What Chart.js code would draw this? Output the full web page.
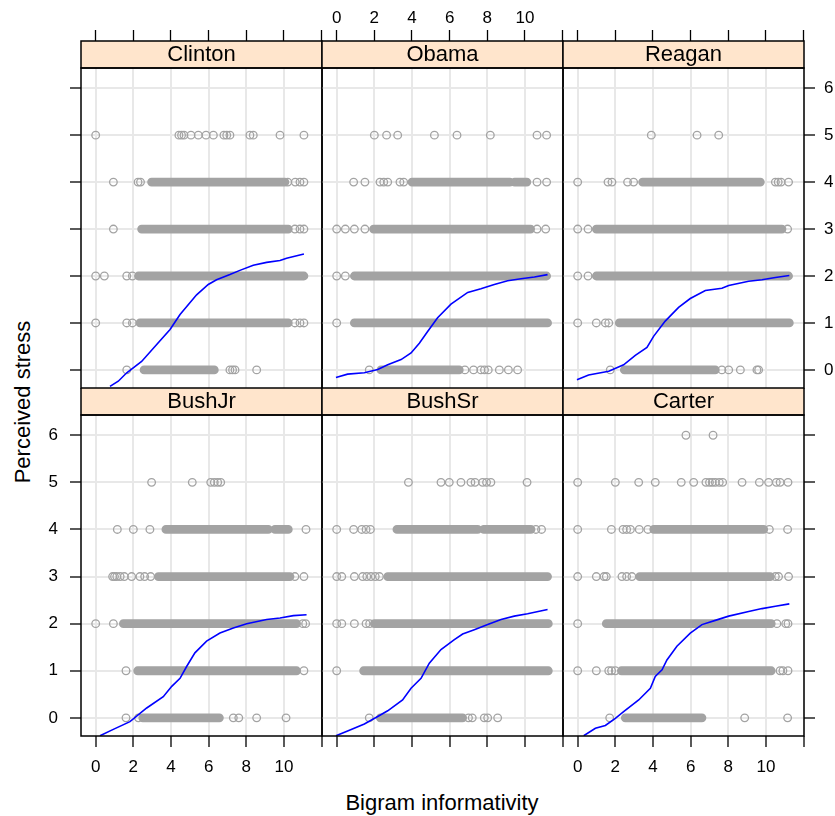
<!DOCTYPE html>
<html>
<head>
<meta charset="utf-8">
<script src="https://cdn.jsdelivr.net/npm/chart.js@4"></script>
<style>
  body { margin: 0; background: #fff; }
  #wrap { position: relative; width: 835px; height: 816px; overflow: hidden; font-family: "Liberation Sans", Arial, sans-serif; }
  canvas { position: absolute; }
  .lab { position: absolute; font-size: 22px; line-height: 22px; color: #000; text-align: center; white-space: nowrap; }
</style>
</head>
<body>
<div id="wrap">
  <div class="lab" style="left:242px; top:792px; width:400px;">Bigram informativity</div>
  <div class="lab" style="left:-127px; top:391px; width:300px; transform:rotate(-90deg);">Perceived stress</div>
</div>
<script>
const presidents = ['Clinton', 'Obama', 'Reagan', 'BushJr', 'BushSr', 'Carter'];
const xTicks = [0, 2, 4, 6, 8, 10, 12];
const xTickLabels = ['0', '2', '4', '6', '8', '10', ''];
const yTicks = [0, 1, 2, 3, 4, 5, 6];

// single circles [x, stress]
const clintonDots = [
  [0.0, 5], [4.42, 5], [4.56, 5], [4.69, 5], [5.06, 5], [5.45, 5], [5.86, 5], [6.25, 5], [6.81, 5], [6.96, 5], [7.13, 5], [8.19, 5], [8.37, 5], [9.79, 5], [11.06, 5],
  [0.94, 4], [2.25, 4], [2.38, 4], [10.2, 4], [10.6, 4], [10.85, 4], [11.06, 4],
  [0.94, 3], [10.58, 3], [10.85, 3], [11.06, 3],
  [0.0, 2], [0.46, 2], [1.65, 2], [1.95, 2],
  [0.0, 1], [1.65, 1], [1.95, 1], [10.58, 1], [10.85, 1], [11.06, 1],
  [1.65, 0], [7.13, 0], [7.27, 0], [7.4, 0], [8.55, 0]
];
// dense runs of overlapping circles [xFrom, xTo, stress]
const clintonRuns = [[2.97, 10.05, 4], [2.44, 10.23, 3], [2.27, 11.06, 2], [2.35, 10.23, 1], [2.57, 6.3, 0]];
const clintonLineX = [0.76, 1.2, 1.65, 2.44, 3.24, 3.95, 4.48, 5.36, 5.98, 6.42, 7.13, 7.66, 8.37, 9.08, 9.79, 10.14, 11.06];
const clintonLineY = [-0.35, -0.24, -0.06, 0.18, 0.54, 0.86, 1.18, 1.6, 1.82, 1.92, 2.03, 2.12, 2.23, 2.29, 2.33, 2.38, 2.47];

const obamaDots = [
  [2.0, 5], [2.65, 5], [3.24, 5], [5.19, 5], [6.39, 5], [8.16, 5], [10.64, 5], [11.15, 5],
  [0.9, 4], [1.5, 4], [2.3, 4], [2.5, 4], [2.71, 4], [3.36, 4], [3.56, 4], [10.64, 4], [11.15, 4],
  [0.0, 3], [0.46, 3], [0.94, 3], [1.5, 3], [10.64, 3], [11.1, 3],
  [0.0, 2], [0.46, 2],
  [0.0, 1],
  [1.73, 0], [6.81, 0], [7.27, 0], [7.66, 0], [7.85, 0], [8.05, 0], [8.64, 0], [9.12, 0], [9.61, 0]
];
const obamaRuns = [[4.0, 9.2, 4], [9.45, 10.1, 4], [1.96, 10.3, 3], [0.94, 11.15, 2], [0.94, 11.2, 1], [2.35, 6.51, 0]];
const obamaLineX = [-0.04, 0.58, 1.47, 2.18, 2.71, 3.42, 3.95, 4.39, 4.83, 5.36, 6.07, 6.96, 7.66, 8.37, 9.08, 9.79, 10.5, 11.2];
const obamaLineY = [-0.16, -0.09, -0.06, 0.01, 0.11, 0.22, 0.36, 0.57, 0.82, 1.11, 1.4, 1.65, 1.73, 1.82, 1.9, 1.94, 1.98, 2.03];

const reaganDots = [
  [3.91, 5], [6.34, 5], [7.49, 5],
  [0.0, 4], [1.61, 4], [1.82, 4], [2.65, 4], [2.97, 4], [10.5, 4], [10.65, 4], [10.8, 4], [11.2, 4],
  [0.0, 3], [0.55, 3], [11.15, 3],
  [0.0, 2], [0.55, 2],
  [0.0, 1], [0.99, 1], [1.47, 1], [1.65, 1],
  [1.73, 0], [7.66, 0], [8.02, 0], [8.64, 0], [9.52, 0], [9.61, 0]
];
const reaganRuns = [[3.45, 9.7, 4], [0.99, 10.85, 3], [0.99, 11.2, 2], [2.21, 11.24, 1], [2.48, 7.31, 0]];
const reaganLineX = [-0.04, 0.58, 1.65, 2.44, 3.06, 3.68, 4.04, 4.65, 5.36, 5.98, 6.78, 7.66, 8.02, 9.08, 9.79, 10.5, 11.24];
const reaganLineY = [-0.21, -0.11, -0.03, 0.11, 0.31, 0.48, 0.72, 1.04, 1.33, 1.52, 1.69, 1.74, 1.8, 1.89, 1.92, 1.97, 2.01];

const bushJrDots = [
  [2.97, 5], [5.13, 5], [6.11, 5], [6.3, 5], [6.48, 5], [6.64, 5],
  [1.15, 4], [2.0, 4], [2.88, 4], [11.17, 4],
  [0.9, 3], [1.0, 3], [1.12, 3], [1.3, 3], [1.52, 3], [1.91, 3], [2.35, 3], [2.6, 3], [2.92, 3], [10.58, 3], [11.06, 3],
  [0.0, 2], [0.94, 2], [11.0, 2], [11.15, 2],
  [1.61, 1], [11.06, 1],
  [1.61, 0], [2.27, 0], [7.31, 0], [7.6, 0], [8.55, 0], [10.11, 0]
];
const bushJrRuns = [[3.73, 9.17, 4], [9.52, 10.23, 4], [3.33, 10.32, 3], [1.47, 10.67, 2], [2.23, 10.67, 1], [2.5, 6.57, 0]];
const bushJrLineX = [0.23, 0.85, 1.82, 2.71, 3.59, 4.04, 4.48, 4.83, 5.27, 5.89, 6.6, 7.31, 8.02, 9.08, 9.79, 10.5, 11.2];
const bushJrLineY = [-0.38, -0.26, -0.08, 0.21, 0.45, 0.67, 0.84, 1.09, 1.38, 1.63, 1.8, 1.91, 2.0, 2.09, 2.12, 2.17, 2.19];

const bushSrDots = [
  [3.81, 5], [5.54, 5], [5.98, 5], [6.6, 5], [7.13, 5], [7.35, 5], [7.75, 5], [7.96, 5], [8.19, 5], [10.11, 5],
  [0.0, 4], [0.9, 4], [1.33, 4], [1.56, 4], [1.79, 4], [10.58, 4], [10.88, 4],
  [0.0, 3], [0.27, 3], [0.94, 3], [1.38, 3], [1.6, 3], [1.82, 3], [2.05, 3], [2.27, 3],
  [0.0, 2], [0.27, 2], [0.94, 2], [1.56, 2], [1.75, 2],
  [0.0, 1],
  [1.73, 0], [7.0, 0], [7.2, 0], [7.84, 0], [8.02, 0], [8.55, 0]
];
const bushSrRuns = [[3.2, 7.49, 4], [7.81, 10.32, 4], [2.71, 11.2, 3], [2.0, 11.24, 2], [1.43, 11.24, 1], [2.32, 6.69, 0]];
const bushSrLineX = [-0.04, 0.58, 1.47, 2.18, 2.71, 3.5, 3.95, 4.48, 4.92, 5.54, 6.25, 6.69, 7.31, 8.02, 8.73, 9.43, 10.14, 11.2];
const bushSrLineY = [-0.38, -0.28, -0.13, 0.03, 0.15, 0.38, 0.63, 0.84, 1.16, 1.45, 1.66, 1.78, 1.87, 1.98, 2.09, 2.16, 2.21, 2.3];

const carterDots = [
  [5.75, 6], [7.19, 6],
  [0.0, 5], [2.0, 5], [3.24, 5], [4.12, 5], [5.5, 5], [6.16, 5], [6.81, 5], [7.0, 5], [7.15, 5], [7.31, 5], [7.52, 5], [7.7, 5], [8.73, 5], [9.65, 5], [10.14, 5], [10.55, 5], [10.75, 5], [11.17, 5],
  [0.0, 4], [1.79, 4], [2.41, 4], [2.6, 4], [2.8, 4], [3.27, 4], [3.73, 4], [10.18, 4], [11.15, 4],
  [0.0, 3], [0.99, 3], [1.4, 3], [1.52, 3], [2.35, 3], [2.6, 3], [2.88, 3], [10.5, 3], [10.67, 3], [11.2, 3],
  [0.0, 2], [10.58, 2], [11.05, 2], [11.17, 2],
  [0.0, 1], [0.99, 1], [1.65, 1], [1.8, 1], [2.0, 1], [10.75, 1], [10.9, 1], [11.17, 1],
  [1.7, 0], [8.87, 0], [11.15, 0]
];
const carterRuns = [[4.04, 9.88, 4], [3.29, 10.23, 3], [1.52, 10.28, 2], [2.32, 10.28, 1], [2.53, 6.6, 0]];
const carterLineX = [0.32, 0.94, 1.47, 2.0, 2.44, 3.24, 3.86, 4.12, 4.48, 4.74, 5.27, 5.98, 6.6, 7.31, 8.02, 9.08, 9.79, 10.5, 11.24];
const carterLineY = [-0.38, -0.22, -0.16, -0.01, 0.13, 0.38, 0.63, 0.88, 1.02, 1.23, 1.52, 1.8, 1.98, 2.07, 2.16, 2.26, 2.32, 2.37, 2.42];

const panels = [
  [clintonDots, clintonRuns, clintonLineX, clintonLineY],
  [obamaDots, obamaRuns, obamaLineX, obamaLineY],
  [reaganDots, reaganRuns, reaganLineX, reaganLineY],
  [bushJrDots, bushJrRuns, bushJrLineX, bushJrLineY],
  [bushSrDots, bushSrRuns, bushSrLineX, bushSrLineY],
  [carterDots, carterRuns, carterLineX, carterLineY]
];

// geometry of the lattice
const colLeft = [81, 322, 563];
const panelW = 241;
const stripTop = [41, 388];
const stripH = 27;
const plotH = [320, 321];
const xMin = -0.78, xMax = 12.02;
const yMin = -0.385, yMax = 6.43;

const fontFam = "'Liberation Sans', Arial, sans-serif";
const tickFont = { family: fontFam, size: 17 };
const dotCol = '#a3a3a3';
const gridCol = '#e8e8e8';

// peach strip + black frames
const panelFrame = {
    id: 'panelFrame',
    beforeDraw(chart) {
        const t = chart.titleBlock;
        const ctx = chart.ctx;
        ctx.save();
        ctx.fillStyle = '#ffe5cc';
        ctx.fillRect(t.left, t.top, t.width, t.height);
        ctx.restore();
    },
    afterDraw(chart) {
        const t = chart.titleBlock;
        const a = chart.chartArea;
        const ctx = chart.ctx;
        ctx.save();
        ctx.strokeStyle = '#000';
        ctx.lineWidth = 1.5;
        ctx.strokeRect(t.left, t.top, t.width, t.height);
        ctx.strokeRect(a.left, a.top, a.right - a.left, a.bottom - a.top);
        ctx.restore();
    }
};

// fixed axis boxes, no extra room asked for edge labels
function fixSize(prop, size) {
    return function(s) {
        s[prop] = size;
        s.paddingLeft = 0;
        s.paddingRight = 0;
        s.paddingTop = 0;
        s.paddingBottom = 0;
    };
}

const wrap = document.getElementById('wrap');

panels.forEach(function(p, i) {
    const [dots, runs, lineX, lineY] = p;
    const row = Math.floor(i / 3), col = i % 3;
    const leftW = col === 0 ? 70 : 0;
    const rightW = col === 2 ? 32 : 0;
    const topW = row === 0 ? 41 : 0;
    const bottomW = row === 1 ? 60 : 0;
    const pad = { left: col === 0 ? 0 : 2, right: col === 2 ? 0 : 2, top: 0, bottom: row === 0 ? 2 : 0 };

    const canvas = document.createElement('canvas');
    const w = pad.left + leftW + panelW + rightW + pad.right;
    const h = topW + stripH + plotH[row] + bottomW + pad.bottom;
    canvas.width = w;
    canvas.height = h;
    canvas.style.width = w + 'px';
    canvas.style.height = h + 'px';
    canvas.style.left = (colLeft[col] - leftW - pad.left) + 'px';
    canvas.style.top = (stripTop[row] - topW) + 'px';
    wrap.appendChild(canvas);

    const runData = [];
    runs.forEach(([a, b, y]) => {
        runData.push({ x: a, y: y }, { x: b, y: y }, { x: b, y: null });
    });

    const tickMarks = { tickLength: 11, tickColor: '#000', tickWidth: 1.3 };

    new Chart(canvas.getContext('2d'), {
        type: 'scatter',
        data: {
            datasets: [{
                type: 'line',
                data: lineX.map((x, k) => ({ x: x, y: lineY[k] })),
                borderColor: '#0000ff',
                borderWidth: 1.6,
                pointRadius: 0,
                tension: 0,
                clip: 0,
                order: 0,
                xAxisID: 'x', yAxisID: 'y'
            }, {
                type: 'scatter',
                data: dots.map(([x, y]) => ({ x: x, y: y })),
                pointRadius: 3.8,
                pointBorderWidth: 1.3,
                borderColor: dotCol,
                backgroundColor: 'rgba(0,0,0,0)',
                order: 1,
                xAxisID: 'x', yAxisID: 'y'
            }, {
                type: 'line',
                data: runData,
                borderColor: dotCol,
                borderWidth: 8.8,
                borderCapStyle: 'round',
                pointRadius: 0,
                spanGaps: false,
                order: 2,
                xAxisID: 'x', yAxisID: 'y'
            }]
        },
        options: {
            responsive: false,
            animation: false,
            devicePixelRatio: 1,
            events: [],
            layout: { padding: pad, autoPadding: false },
            plugins: {
                legend: { display: false },
                tooltip: { enabled: false },
                title: {
                    display: true,
                    text: presidents[i],
                    fullSize: false,
                    padding: 0,
                    color: '#000',
                    font: { family: fontFam, size: 22, weight: 'normal', lineHeight: stripH + 'px' }
                }
            },
            scales: {
                x: {
                    type: 'linear', position: 'bottom', min: xMin, max: xMax, bounds: 'data',
                    afterBuildTicks: s => { s.ticks = xTicks.map(v => ({ value: v })); },
                    afterFit: fixSize('height', bottomW),
                    grid: Object.assign({ color: gridCol, lineWidth: 2, drawTicks: row === 1 }, tickMarks),
                    border: { display: false },
                    ticks: {
                        display: row === 1 && col !== 1, font: tickFont, color: '#000', padding: 10,
                        maxRotation: 0, autoSkip: false,
                        callback: v => xTickLabels[xTicks.indexOf(v)]
                    }
                },
                xTop: {
                    type: 'linear', position: 'top', axis: 'x', weight: 3000, display: row === 0,
                    min: xMin, max: xMax, bounds: 'data',
                    afterBuildTicks: s => { s.ticks = xTicks.map(v => ({ value: v })); },
                    afterFit: fixSize('height', topW),
                    grid: Object.assign({ drawOnChartArea: false, drawTicks: true }, tickMarks),
                    border: { display: false },
                    ticks: {
                        display: col === 1, font: tickFont, color: '#000', padding: 1,
                        maxRotation: 0, autoSkip: false,
                        callback: v => xTickLabels[xTicks.indexOf(v)]
                    }
                },
                y: {
                    type: 'linear', position: col === 2 ? 'right' : 'left', min: yMin, max: yMax, bounds: 'data',
                    afterBuildTicks: s => { s.ticks = yTicks.map(v => ({ value: v })); },
                    afterFit: fixSize('width', leftW + rightW),
                    grid: Object.assign({ color: gridCol, lineWidth: 2, drawTicks: col !== 1 }, tickMarks),
                    border: { display: false },
                    ticks: {
                        display: (col === 0 && row === 1) || (col === 2 && row === 0),
                        font: tickFont, color: '#000', padding: col === 0 ? 12 : 9, autoSkip: false
                    }
                }
            }
        },
        plugins: [panelFrame]
    });
});
</script>
</body>
</html>
